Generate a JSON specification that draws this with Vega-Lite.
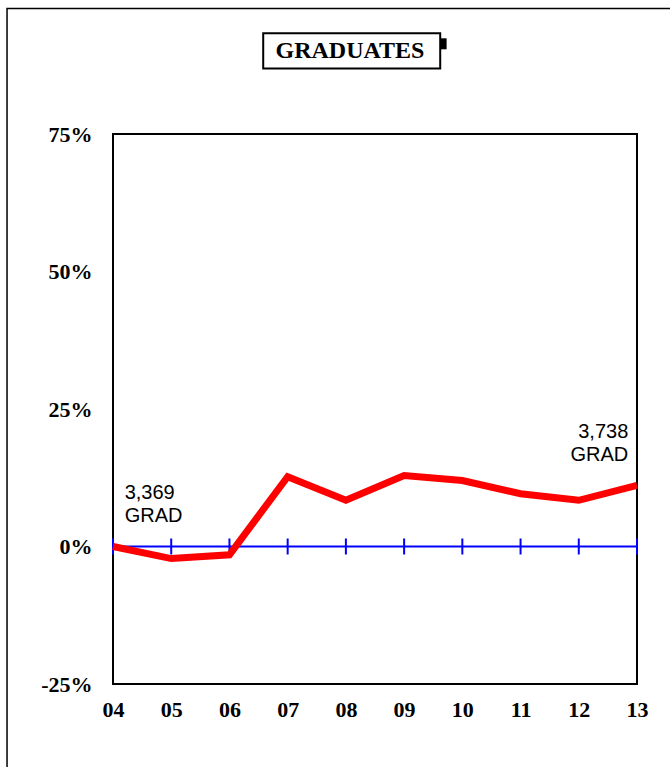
{
  "$schema": "https://vega.github.io/schema/vega-lite/v6.json",
  "autosize": "none",
  "padding": {"left": 113, "top": 134, "right": 33, "bottom": 83},
  "width": 524,
  "height": 550,
  "background": "white",
  "config": {"view": {"stroke": "black", "strokeWidth": 2}},
  "datasets": {
    "grads": [
      {"year": 4, "pct": 0.0},
      {"year": 5, "pct": -2.2},
      {"year": 6, "pct": -1.5},
      {"year": 7, "pct": 12.7},
      {"year": 8, "pct": 8.4},
      {"year": 9, "pct": 12.9},
      {"year": 10, "pct": 12.0},
      {"year": 11, "pct": 9.6},
      {"year": 12, "pct": 8.4},
      {"year": 13, "pct": 11.1}
    ],
    "notes": [
      {"year": 4.2, "pct": 11.6, "side": "left"},
      {"year": 12.85, "pct": 22.6, "side": "right"}
    ],
    "one": [{}]
  },
  "layer": [
    {
      "data": {"name": "one"},
      "mark": {"type": "rect", "fill": null, "stroke": "black", "strokeWidth": 1.5, "clip": false},
      "encoding": {
        "x": {"datum": 2.18, "type": "quantitative"},
        "x2": {"datum": 14},
        "y": {"datum": 97.8, "type": "quantitative"},
        "y2": {"datum": -50}
      }
    },
    {
      "data": {"name": "one"},
      "mark": {"type": "rule", "color": "#0000ff", "strokeWidth": 2},
      "encoding": {
        "x": {"datum": 4, "type": "quantitative"},
        "x2": {"datum": 13},
        "y": {"datum": 0, "type": "quantitative"}
      }
    },
    {
      "data": {"name": "grads"},
      "mark": {"type": "tick", "orient": "vertical", "color": "#0000ff", "size": 16, "thickness": 2, "opacity": 1},
      "encoding": {
        "x": {
          "field": "year", "type": "quantitative",
          "scale": {"domain": [4, 13], "nice": false, "zero": false},
          "axis": {
            "values": [4, 5, 6, 7, 8, 9, 10, 11, 12, 13],
            "labelExpr": "datum.value < 10 ? '0' + datum.value : '' + datum.value",
            "title": null, "domain": false, "ticks": false, "grid": false,
            "labelFont": "Liberation Serif", "labelFontSize": 22, "labelFontWeight": "bold",
            "labelColor": "black", "labelPadding": 15, "labelFlush": false
          }
        },
        "y": {
          "datum": 0, "type": "quantitative",
          "scale": {"domain": [-25, 75], "nice": false, "zero": false},
          "axis": {
            "values": [-25, 0, 25, 50, 75],
            "labelExpr": "datum.value + '%'",
            "title": null, "domain": false, "ticks": false, "grid": false,
            "labelFont": "Liberation Serif", "labelFontSize": 22, "labelFontWeight": "bold",
            "labelColor": "black", "labelPadding": 21, "labelFlush": false, "labelBaseline": "middle"
          }
        }
      }
    },
    {
      "data": {"name": "grads"},
      "mark": {"type": "line", "color": "#ff0000", "strokeWidth": 7, "strokeJoin": "miter"},
      "encoding": {
        "x": {"field": "year", "type": "quantitative"},
        "y": {"field": "pct", "type": "quantitative"}
      }
    },
    {
      "data": {"name": "notes"},
      "transform": [{"filter": "datum.side == 'left'"}],
      "mark": {"type": "text", "align": "left", "baseline": "top", "font": "Liberation Sans", "fontSize": 20, "lineHeight": 23, "color": "black"},
      "encoding": {
        "x": {"field": "year", "type": "quantitative"},
        "y": {"field": "pct", "type": "quantitative"},
        "text": {"value": ["3,369", "GRAD"]}
      }
    },
    {
      "data": {"name": "notes"},
      "transform": [{"filter": "datum.side == 'right'"}],
      "mark": {"type": "text", "align": "right", "baseline": "top", "font": "Liberation Sans", "fontSize": 20, "lineHeight": 23, "color": "black"},
      "encoding": {
        "x": {"field": "year", "type": "quantitative"},
        "y": {"field": "pct", "type": "quantitative"},
        "text": {"value": ["3,738", "GRAD"]}
      }
    },
    {
      "data": {"name": "one"},
      "mark": {"type": "rect", "fill": "white", "stroke": "black", "strokeWidth": 2, "clip": false},
      "encoding": {
        "x": {"datum": 6.58, "type": "quantitative"},
        "x2": {"datum": 9.62},
        "y": {"datum": 93.3, "type": "quantitative"},
        "y2": {"datum": 86.9}
      }
    },
    {
      "data": {"name": "one"},
      "mark": {"type": "rect", "fill": "black", "clip": false},
      "encoding": {
        "x": {"datum": 9.63, "type": "quantitative"},
        "x2": {"datum": 9.73},
        "y": {"datum": 92.4, "type": "quantitative"},
        "y2": {"datum": 90.4}
      }
    },
    {
      "data": {"name": "one"},
      "mark": {"type": "text", "align": "center", "baseline": "middle", "font": "Liberation Serif", "fontSize": 24, "fontWeight": "bold", "color": "black", "clip": false},
      "encoding": {
        "x": {"datum": 8.07, "type": "quantitative"},
        "y": {"datum": 90.1, "type": "quantitative"},
        "text": {"value": "GRADUATES"}
      }
    }
  ]
}
